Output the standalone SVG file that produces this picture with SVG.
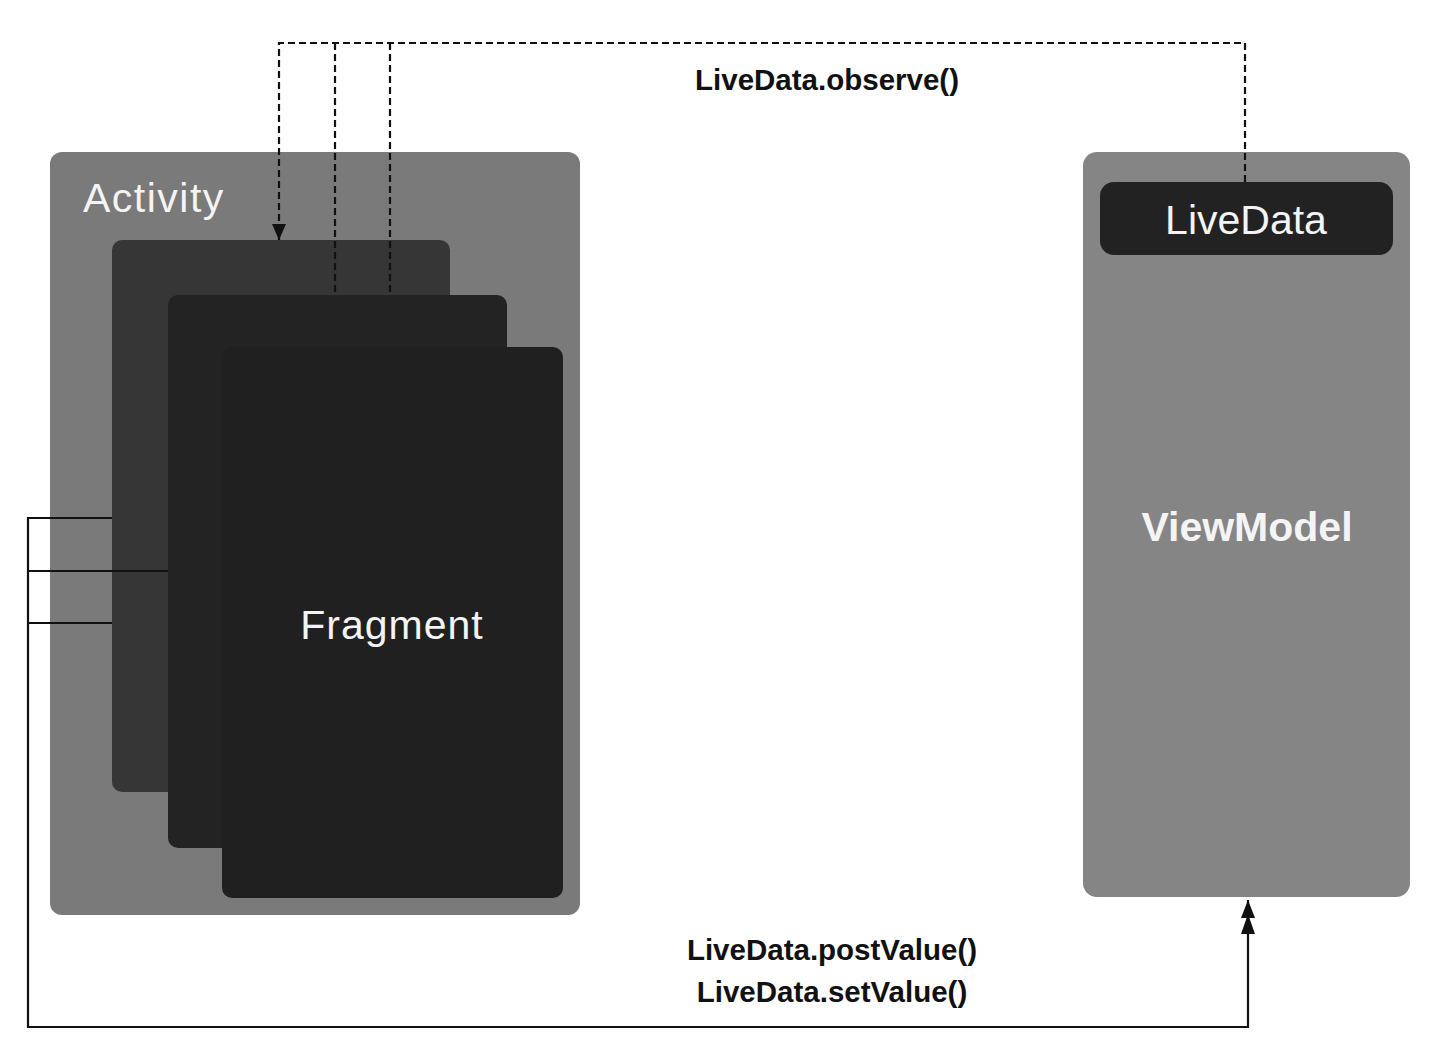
<svg xmlns="http://www.w3.org/2000/svg" width="1438" height="1056" viewBox="0 0 1438 1056">
<style>
.lbl{font-family:"Liberation Sans",Arial,sans-serif;font-weight:bold;font-size:29.5px;fill:#111;text-anchor:middle}
.big{font-family:"Liberation Sans",Arial,sans-serif;font-size:41px;fill:#f4f4f4}
.dash{fill:none;stroke:#111;stroke-width:2.2;stroke-dasharray:7 4}
.solid{fill:none;stroke:#111;stroke-width:2.2}
</style>
<defs>
<marker id="arrDown" markerWidth="14" markerHeight="16" refX="7" refY="16" orient="0" markerUnits="userSpaceOnUse">
<path d="M0,0 L14,0 L7,16 Z" fill="#111"/>
</marker>
<marker id="arrUp2" markerWidth="16" markerHeight="36" refX="8" refY="0" orient="0" markerUnits="userSpaceOnUse">
<path d="M8,0 L15,18 L1,18 Z M8,14 L15,34 L1,34 Z" fill="#111"/>
</marker>
</defs>
<rect width="1438" height="1056" fill="#ffffff"/>
<g id="activity">
<rect x="50" y="152" width="530" height="763" rx="12" fill="#7a7a7a"/>
<text class="big" x="83" y="212" style="letter-spacing:1.5px">Activity</text>
</g>
<g id="fragment1">
<rect x="112" y="240" width="338" height="552" rx="10" fill="#363636"/>
</g>
<g id="fragment2">
<rect x="168" y="295" width="339" height="553" rx="10" fill="#232323"/>
</g>
<g id="fragment3">
<rect x="222" y="347" width="341" height="551" rx="10" fill="#202020"/>
<text class="big" x="392" y="639" text-anchor="middle" style="letter-spacing:1px">Fragment</text>
</g>
<g id="viewmodel">
<rect x="1083" y="152" width="327" height="745" rx="14" fill="#858585"/>
<text class="big" x="1247" y="541" text-anchor="middle" font-weight="bold" font-size="40">ViewModel</text>
</g>
<g id="livedata">
<rect x="1100" y="182" width="293" height="73" rx="14" fill="#222222"/>
<text class="big" x="1246" y="234" text-anchor="middle">LiveData</text>
</g>
<g id="connectors">
<path class="dash" d="M1245,182 V43 H279 V240" marker-end="url(#arrDown)"/>
<path class="dash" d="M335,43 V295"/>
<path class="dash" d="M390,43 V295"/>
<path class="solid" d="M112,518 H28 V1027 H1248 V900" marker-end="url(#arrUp2)"/>
<path class="solid" d="M168,571 H28"/>
<path class="solid" d="M112,623 H28"/>
</g>
<text class="lbl" x="827" y="90">LiveData.observe()</text>
<text class="lbl" x="832" y="960">LiveData.postValue()</text>
<text class="lbl" x="832" y="1002">LiveData.setValue()</text>
</svg>
